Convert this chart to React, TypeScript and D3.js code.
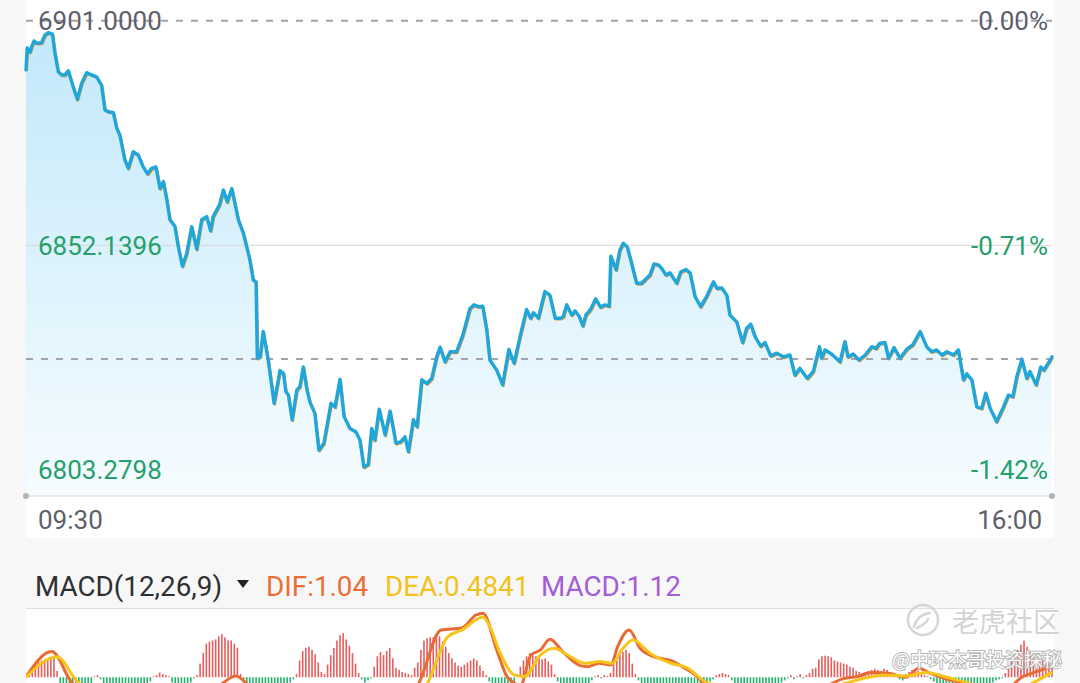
import React from 'react';
import * as d3 from 'd3';

const W = 1080;
const H = 683;

// intraday price: [minute since open, price]
const pricePoints: [number, number][] = [
  [0,6890.3],[0.4,6895.1],[1.3,6894.2],[1.8,6895.3],[2.6,6896.6],[3.4,6896.1],[5.0,6896.2],[6.1,6897.9],[7.2,6898.4],[8.5,6898.1],
  [9.3,6894.0],[10.4,6889.9],[11.5,6889.2],[12.5,6889.2],[13.6,6890.1],[15.2,6886.6],[16.5,6883.9],[17.9,6887.4],[19.5,6889.7],[21.1,6889.2],
  [22.7,6888.8],[24.3,6887.0],[25.4,6881.6],[26.5,6881.2],[28.1,6881.0],[29.2,6877.6],[30.2,6876.1],[31.8,6870.7],[32.9,6868.9],[34.5,6872.5],
  [36.1,6871.8],[37.7,6869.2],[39.1,6867.7],[40.4,6868.9],[41.8,6869.2],[43.1,6864.5],[44.2,6866.0],[45.3,6862.0],[46.3,6857.7],[47.9,6856.3],
  [49.0,6851.8],[50.3,6847.6],[51.7,6850.4],[53.3,6856.2],[54.9,6851.3],[56.5,6857.7],[58.1,6858.4],[59.4,6855.3],[60.2,6858.4],[62.2,6860.9],
  [63.5,6864.2],[64.7,6861.6],[66.2,6864.5],[68.3,6857.7],[69.9,6854.8],[72.0,6849.0],[73.1,6844.6],[74.0,6844.2],[74.4,6827.6],[75.3,6827.9],
  [76.3,6833.4],[77.9,6827.2],[79.8,6817.8],[81.7,6824.9],[82.8,6824.3],[83.6,6820.3],[84.4,6819.6],[85.6,6814.2],[87.1,6820.7],[88.1,6821.4],
  [89.2,6825.7],[90.3,6821.0],[91.3,6818.1],[92.9,6815.6],[94.2,6807.6],[95.8,6809.1],[98.1,6817.8],[99.4,6817.0],[101.0,6823.0],[102.3,6814.9],
  [104.2,6812.3],[106.1,6811.6],[107.4,6809.8],[108.7,6803.9],[110.1,6804.5],[111.2,6812.3],[112.2,6809.8],[113.6,6816.5],[115.5,6810.9],[117.1,6816.1],
  [119.0,6809.1],[120.5,6809.4],[121.9,6810.5],[123.0,6807.3],[124.6,6814.2],[125.8,6812.7],[127.3,6822.9],[128.9,6822.1],[130.5,6823.2],[132.1,6827.9],
  [133.2,6830.0],[134.8,6826.8],[136.4,6829.0],[138.5,6829.0],[140.5,6832.6],[142.8,6838.4],[144.1,6839.2],[145.5,6838.8],[146.9,6838.9],[148.2,6833.7],
  [149.2,6827.2],[151.4,6825.0],[153.3,6821.8],[155.3,6829.5],[157.0,6826.5],[158.9,6832.3],[161.0,6838.2],[162.3,6836.3],[163.2,6837.5],[164.8,6836.3],
  [166.9,6842.1],[168.5,6841.3],[170.2,6836.3],[171.8,6836.3],[172.8,6836.6],[173.9,6839.2],[175.5,6837.0],[176.6,6837.9],[178.0,6836.6],[179.1,6834.6],
  [180.1,6837.0],[181.6,6838.2],[183.2,6840.5],[184.8,6838.7],[186.2,6839.2],[187.6,6838.9],[188.1,6849.8],[189.8,6846.8],[191.0,6851.1],[192.1,6852.6],
  [193.4,6851.8],[194.8,6848.2],[196.4,6843.9],[198.0,6843.9],[199.6,6845.0],[200.7,6845.7],[202.0,6848.1],[203.4,6847.9],[204.5,6847.1],[205.8,6845.7],
  [207.1,6846.2],[209.3,6843.9],[210.6,6846.4],[212.3,6846.9],[213.6,6846.1],[215.2,6841.0],[217.0,6838.8],[218.9,6841.0],[221.1,6844.2],[222.2,6842.8],
  [223.8,6842.9],[225.4,6841.3],[226.4,6837.0],[228.6,6835.5],[230.5,6831.0],[231.8,6834.1],[233.1,6835.0],[234.5,6832.3],[236.3,6830.2],[237.7,6831.0],
  [239.5,6828.1],[241.5,6828.7],[243.6,6827.9],[245.7,6828.3],[247.3,6823.9],[248.9,6825.4],[251.3,6823.2],[253.2,6824.7],[255.2,6830.1],[255.9,6827.6],
  [257.0,6829.4],[259.1,6828.5],[261.8,6826.8],[263.4,6831.2],[264.4,6827.9],[266.1,6828.5],[267.9,6827.2],[269.9,6828.3],[272.0,6830.1],[273.4,6829.7],
  [274.5,6830.8],[276.3,6831.0],[277.4,6827.6],[279.2,6829.9],[281.1,6827.6],[283.5,6829.7],[285.2,6830.5],[287.6,6833.4],[289.7,6830.1],[291.3,6829.0],
  [292.9,6829.4],[294.6,6828.3],[296.2,6829.0],[298.3,6828.3],[299.9,6829.4],[301.5,6822.9],[302.6,6824.2],[304.2,6822.9],[305.8,6817.0],[307.4,6816.7],
  [308.7,6820.0],[310.1,6816.7],[312.2,6813.8],[314.4,6817.0],[316.0,6819.6],[317.4,6819.2],[318.7,6823.6],[320.3,6827.4],[321.9,6823.2],[322.9,6824.7],
  [324.9,6821.8],[326.4,6825.7],[327.4,6825.0],[329.4,6827.2],[330,6827.9],
];

const priceTicks = [6901.0, 6852.1396, 6803.2798];
const priceTickLabels = ['6901.0000', '6852.1396', '6803.2798'];
const pctTickLabels = ['0.00%', '-0.71%', '-1.42%'];
const refLinePrice = 6827.4;
const timeLabels = ['09:30', '16:00'];
const sessionMinutes = [0, 330];

// MACD histogram, one bar per minute
const macdHist: number[] = [
  0.3,0.6,1.0,1.3,1.5,1.6,1.6,1.7,1.8,1.9,0.6,
  -0.6,-1.2,-1.6,-1.8,-2,-2,-1.9,-1.7,-1.5,-1.2,-0.8,
  0.1,0.2,-0.2,
  -0.6,-1.1,-1.5,-1.8,-2,-2.1,-2.1,-2,-1.9,-1.8,-1.6,-1.4,-1.2,-1,-0.7,-0.4,
  0.1,0.2,0.45,0.3,0.2,0.1,
  -0.5,-1,-1.3,-1.4,-1.2,-0.9,-0.5,
  -0.1,
  0.2,1.3,2.3,3.2,3.4,3.5,3.6,3.9,4.1,3.8,3.5,3.5,3.2,2.8,0.3,
  -0.5,-1,-1.4,-1.7,-1.9,-2,-2.1,-2.1,-2,-1.9,-1.8,-1.6,-1.4,-1.1,-0.8,-0.5,-0.2,
  0.3,1.6,2.5,2.8,2.9,2.6,2.2,1.4,0.5,
  0.3,1.2,2.1,2.8,3.5,4.0,4.2,3.6,3.0,2.3,1.3,0.4,
  -0.2,-0.5,-0.3,-0.1,
  1.0,2.0,2.4,2.1,2.5,2.8,1.8,0.9,0.7,0.5,0.4,0.3,0.2,
  0.9,1.4,2.6,3.5,3.7,3.8,3.8,3.7,3.9,3.4,2.9,2.3,1.8,1.4,1.1,1.0,1.2,1.4,1.6,1.8,1.6,1.1,0.6,0.2,
  -0.4,-0.8,-1.2,-1.5,-1.6,-1.6,-1.4,-1.0,-0.5,
  0.3,1.0,1.6,2.0,2.3,2.1,2.0,1.9,1.7,1.8,1.5,1.2,0.3,
  -0.4,-0.9,-1.3,-1.5,-1.6,-1.7,-1.6,-1.5,-1.3,-1.0,-0.7,-0.3,
  0.1,0.2,-0.1,0.2,0.1,
  0.4,1.3,1.9,2.2,2.4,2.6,2.3,1.3,0.3,
  -0.3,-0.7,-1.0,-1.3,-1.5,-1.6,-1.7,-1.8,-1.8,-1.8,-1.7,-1.7,-1.6,-1.6,-1.5,-1.5,-1.4,-1.3,-1.2,-1.1,-1.0,-0.8,-0.6,-0.4,-0.2,
  0.2,0.3,0.4,0.3,0.2,
  -0.3,-0.6,-0.9,-1.1,-1.3,-1.4,-1.5,-1.5,-1.5,-1.4,-1.4,-1.3,-1.2,-1.0,-0.9,-0.7,-0.5,-0.3,-0.1,
  0.2,-0.2,0.1,0.3,-0.1,0.2,0.4,0.8,
  0.9,1.7,2.0,2.05,2.0,1.9,1.6,1.5,1.4,1.3,1.2,1.0,0.9,0.6,0.5,0.4,
  0.5,0.6,0.7,0.8,0.7,0.6,0.8,0.7,0.5,0.4,0.3,-0.2,-0.3,0.3,0.5,0.7,0.8,0.6,0.3,
  0.2,0.1,-0.2,-0.4,
  -0.6,-0.8,-1.0,-1.2,-1.3,-1.4,-1.4,-1.5,-1.5,-1.5,-1.4,-1.4,-1.3,-1.2,-1.1,-1.0,-0.8,-0.6,-0.5,-0.3,-0.2,
  -0.1,0.4,0.9,1.5,2.1,2.6,3.1,3.5,2.9,2.4,2.1,1.8,1.6,1.7,1.8,1.5,1.12,
];

const difPoints: [number, number][] = [
  [0,0.05],[8.3,2.44],[14.8,-0.54],[20,-1.6],[35,-2.6],[50,-1.8],[62,-0.8],[67.5,0.12],[72,-0.9],[80,-2.8],
  [90,-4],[110,-4.5],[122,-2.5],[126.4,-0.54],[133.5,4.5],[140.2,4.7],[144.7,5.93],[147,6.1],[151.4,2.6],[154.7,0.06],
  [157,-0.54],[159,-0.8],[162.4,2.12],[165.5,2.6],[168.5,3.62],[173,2.31],[178.5,1.08],[180.8,1.01],[184.2,1.33],[188.1,1.17],
  [190.3,2.91],[194,4.5],[197.5,2.76],[201.9,1.96],[207.5,1.58],[211.9,0.86],[215.2,0.22],[218,-0.54],[225,-1.2],[235,-1.8],
  [245,-2.0],[255,-1.2],[263,-0.13],[267.3,0.06],[271.8,0.44],[277.3,0.38],[282.9,0.0],[287.2,0.86],[290.7,0.38],[296.2,-0.19],
  [301.7,-0.54],[308,-1.3],[314,-1.4],[320.6,0.06],[325,0.53],[330,1.04],
];

const deaPoints: [number, number][] = [
  [0,0],[10,1.96],[17,-0.54],[30,-1.6],[45,-2.2],[60,-1.3],[68,-0.9],[80,-1.8],[95,-3.2],[110,-4.4],
  [122,-3.5],[129.2,-0.54],[135.7,3.87],[140.2,4.5],[147,5.74],[149.2,4.82],[152.5,2.31],[157,0.22],[160.2,0.06],[165.5,2.12],
  [169.8,2.76],[174.2,2.12],[179.7,1.33],[184.6,1.49],[188.6,1.33],[192,2.76],[195.2,3.55],[200.7,2.29],[207.5,1.33],[212.9,0.86],
  [216.3,0.06],[219,-0.54],[230,-1.0],[245,-1.6],[258,-1.0],[264,-0.54],[269.5,-0.1],[276.3,0.22],[282.9,0.12],[289.5,0.44],
  [296.2,0.0],[302.9,-0.54],[312,-1.2],[318,-1.3],[323.9,-0.54],[330,0.4841],
];

const macdTitle = 'MACD(12,26,9)';
const difLabel = 'DIF:1.04';
const deaLabel = 'DEA:0.4841';
const macdLabel = 'MACD:1.12';

const FONT = "Roboto, 'Noto Sans', sans-serif";
const CJK = "'Noto Sans CJK SC', sans-serif";

export default function App() {
  const x = d3.scaleLinear().domain([0, 330]).range([26, 1052]);
  const y = d3.scaleLinear().domain([6803.2798, 6901]).range([470, 20.7]);
  const axisY = 496;

  const line = d3.line<[number, number]>().x(d => x(d[0])).y(d => y(d[1]));
  const area = d3.area<[number, number]>().x(d => x(d[0])).y0(axisY).y1(d => y(d[1]));

  const my = d3.scaleLinear().domain([-0.55, 6.5]).range([683, 609]);
  const mLine = d3.line<[number, number]>().x(d => x(d[0])).y(d => my(d[1])).curve(d3.curveMonotoneX);
  const zeroY = my(0);

  const labelColors = ['#5d5f6b', '#24a06c', '#24a06c'];

  return (
    <div style={{ position: 'absolute', left: 0, top: 0, width: W, height: H, overflow: 'hidden' }}>
      <svg width={W} height={H} style={{ display: 'block' }}>
        <defs>
          <linearGradient id="fillGrad" gradientUnits="userSpaceOnUse" x1="0" y1="20" x2="0" y2={axisY}>
            <stop offset="0" stopColor="#c1e8fa" />
            <stop offset="1" stopColor="#f6fcff" />
          </linearGradient>
          <clipPath id="macdClip">
            <rect x={26} y={609} width={1028} height={74} />
          </clipPath>
        </defs>
        <rect x={0} y={0} width={W} height={H} fill="#f7f7f7" />
        <rect x={26} y={0} width={1028} height={538} fill="#ffffff" />
        <rect x={26} y={609} width={1028} height={74} fill="#ffffff" />
        <line x1={26} x2={1054} y1={608.5} y2={608.5} stroke="#dedede" strokeWidth={1} />

        {/* price area */}
        <path d={area(pricePoints) || ''} fill="url(#fillGrad)" />

        {/* grid */}
        <line x1={26} x2={1052} y1={y(priceTicks[1])} y2={y(priceTicks[1])} stroke="#d9d9d9" strokeWidth={1} />
        <line x1={26} x2={1052} y1={y(priceTicks[0])} y2={y(priceTicks[0])} stroke="#a3a3aa" strokeWidth={2} strokeDasharray="7 8" />
        <line x1={26} x2={1052} y1={y(refLinePrice)} y2={y(refLinePrice)} stroke="#a3a3aa" strokeWidth={2} strokeDasharray="7 8" />
        <line x1={26} x2={1052} y1={axisY} y2={axisY} stroke="#e4e4e4" strokeWidth={1.5} />
        <circle cx={26} cy={axisY} r={3} fill="#b3b3b3" />
        <circle cx={1052} cy={axisY} r={3} fill="#b3b3b3" />

        {/* price line */}
        <path d={line(pricePoints) || ''} fill="none" stroke="#e39a3c" strokeWidth={2.4} transform="translate(0.8,1.2)" strokeLinejoin="round" />
        <path d={line(pricePoints) || ''} fill="none" stroke="#1fa6db" strokeWidth={3.4} strokeLinejoin="round" strokeLinecap="round" />

        {/* y labels */}
        {priceTicks.map((v, i) => (
          <text key={'l' + i} x={38} y={y(v)} dy="0.36em" fontFamily={FONT} fontSize={26} fill={labelColors[i]}>
            {priceTickLabels[i]}
          </text>
        ))}
        {priceTicks.map((v, i) => (
          <text key={'r' + i} x={1048} y={y(v)} dy="0.36em" textAnchor="end" fontFamily={FONT} fontSize={26} fill={labelColors[i]}>
            {pctTickLabels[i]}
          </text>
        ))}
        <text x={x(sessionMinutes[0]) + 12} y={529} fontFamily={FONT} fontSize={26} fill="#5d5f6b">{timeLabels[0]}</text>
        <text x={x(sessionMinutes[1]) - 10} y={529} textAnchor="end" fontFamily={FONT} fontSize={26} fill="#5d5f6b">{timeLabels[1]}</text>

        {/* MACD header */}
        <text x={35} y={596} fontFamily={FONT} fontSize={27.8} fill="#2f3033">{macdTitle}</text>
        <path d="M237,580 L249,580 L243,588 Z" fill="#222" />
        <text x={266} y={596} fontFamily={FONT} fontSize={27.8} fill="#ea6f36">{difLabel}</text>
        <text x={385} y={596} fontFamily={FONT} fontSize={27.8} fill="#f1c21c">{deaLabel}</text>
        <text x={541} y={596} fontFamily={FONT} fontSize={27.8} fill="#a35ed6">{macdLabel}</text>

        {/* MACD panel */}
        <g clipPath="url(#macdClip)">
          {macdHist.map((v, i) => (
            <rect
              key={'h' + i}
              x={x(i) - 0.8}
              width={1.6}
              y={v >= 0 ? my(v) : zeroY}
              height={Math.abs(my(v) - zeroY)}
              fill={v >= 0 ? '#e85c5c' : '#23b26b'}
            />
          ))}
          <path d={mLine(difPoints) || ''} fill="none" stroke="#ea6a33" strokeWidth={3} />
          <path d={mLine(deaPoints) || ''} fill="none" stroke="#f6c51c" strokeWidth={3} />
        </g>

        {/* watermark */}
        <g opacity={0.9}>
          <circle cx={923} cy={620} r={15} fill="none" stroke="#d2d2d2" strokeWidth={2.5} />
          <path d="M914,627 C916,619 922,614 930,613 M917,628 C921,626 926,624 928,619" fill="none" stroke="#d2d2d2" strokeWidth={2.5} strokeLinecap="round" />
          <text x={952} y={632} fontFamily={CJK} fontSize={27} fill="#d0d0d0" stroke="#ffffff" strokeWidth={1} paintOrder="stroke">老虎社区</text>
          <text x={892} y={667} fontFamily={CJK} fontSize={19} fill="#ffffff" stroke="#b0b0b0" strokeWidth={2} paintOrder="stroke">@中环杰哥投资探秘</text>
        </g>
      </svg>
    </div>
  );
}
